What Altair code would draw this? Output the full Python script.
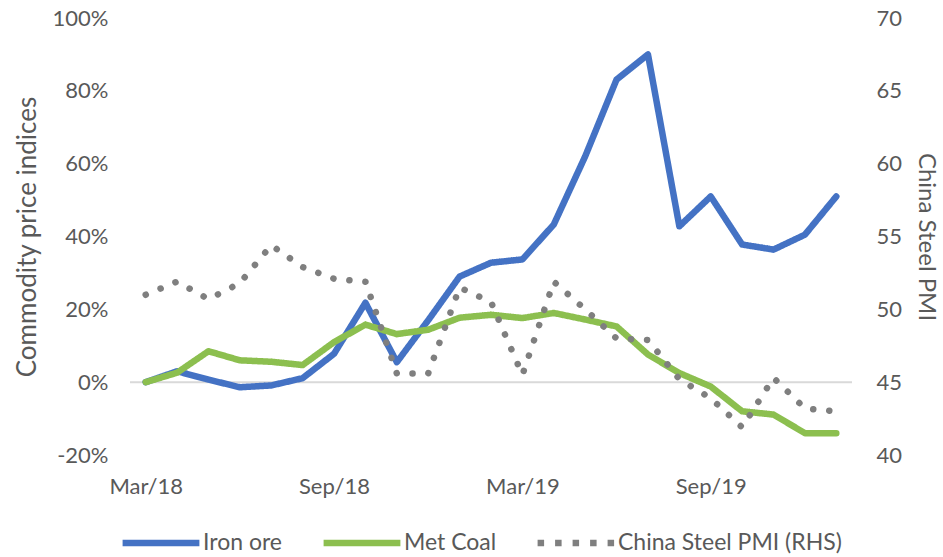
import altair as alt
import pandas as pd

# Monthly observations, Mar/18 .. Jan/20
months = [
    "Mar/18", "Apr/18", "May/18", "Jun/18", "Jul/18", "Aug/18", "Sep/18",
    "Oct/18", "Nov/18", "Dec/18", "Jan/19", "Feb/19", "Mar/19", "Apr/19",
    "May/19", "Jun/19", "Jul/19", "Aug/19", "Sep/19", "Oct/19", "Nov/19",
    "Dec/19", "Jan/20",
]
# Commodity price indices, % change since Mar/18
iron_ore = [0, 3, 0.7, -1.4, -0.9, 1.1, 7.8, 21.8, 5.5, 17, 29, 32.8,
            33.7, 43.3, 62, 83.1, 90, 42.8, 51, 37.8, 36.4, 40.5, 51]
met_coal = [0, 2.6, 8.5, 6, 5.6, 4.7, 11, 15.8, 13.2, 14.4, 17.7, 18.5,
            17.6, 19, 17.2, 15.3, 7.6, 2.5, -1.2, -8, -8.9, -14, -14]
# China steel PMI (right-hand scale)
steel_pmi = [51.0, 51.9, 50.7, 51.8, 54.4, 52.9, 52.1, 51.9, 45.6, 45.6,
             51.5, 50.5, 45.5, 51.9, 50.0, 48.0, 47.9, 45.2, 43.9, 41.9,
             45.3, 43.2, 43.0]

series_names = ["Iron ore", "Met Coal", "China Steel PMI (RHS)"]
series_colors = ["#4472C4", "#8CBF4F", "#7F7F7F"]
# dash patterns used for the legend swatches
legend_dashes = [[1, 0], [1, 0], [6.5, 11]]
x_labels = ["Mar/18", "Sep/18", "Mar/19", "Sep/19"]
left_ticks = [-20, 0, 20, 40, 60, 80, 100]
right_ticks = [40, 45, 50, 55, 60, 65, 70]

FONT = "Lato"
TEXT = "#595959"

prices = pd.DataFrame({
    "month": months * 2,
    "series": [series_names[0]] * len(months) + [series_names[1]] * len(months),
    "value": iron_ore + met_coal,
})
pmi = pd.DataFrame({
    "month": months,
    "series": [series_names[2]] * len(months),
    "pmi": steel_pmi,
})

x_enc = alt.X(
    "month:O",
    sort=months,
    scale=alt.Scale(type="point", padding=0.5),
    axis=alt.Axis(values=x_labels, labelAngle=0, title=None, domain=False,
                  ticks=False, grid=False, labelPadding=21,
                  labelFontSize=22, labelFont=FONT, labelColor=TEXT),
)

left_scale = alt.Scale(domain=[-20, 100], nice=False, zero=False)
left_axis = alt.Axis(
    values=left_ticks, labelExpr="datum.value + '%'",
    title="Commodity price indices", domain=False, ticks=False, grid=False,
    labelPadding=22, titlePadding=12, labelFontSize=22, titleFontSize=26,
    labelFont=FONT, titleFont=FONT, labelColor=TEXT, titleColor=TEXT,
    titleFontWeight="normal",
)

legend = alt.Legend(
    title=None, orient="none", legendX=-11, legendY=437 + 46,
    direction="horizontal", symbolType="stroke", symbolSize=5900,
    symbolStrokeWidth=6.5, labelFontSize=23, labelFont=FONT,
    labelColor=TEXT, labelOffset=0, columnPadding=27, labelLimit=400,
)
color_enc = alt.Color(
    "series:N",
    scale=alt.Scale(domain=series_names, range=series_colors),
    legend=legend,
)
dash_enc = alt.StrokeDash(
    "series:N",
    scale=alt.Scale(domain=series_names, range=legend_dashes),
    legend=legend,
)

# horizontal axis line at 0%
zero_line = alt.Chart(pd.DataFrame({"value": [0]})).mark_rule(
    color="#D9D9D9", strokeWidth=2
).encode(y=alt.Y("value:Q", scale=left_scale, axis=left_axis))

price_lines = alt.Chart(prices).mark_line(
    strokeWidth=6.5, strokeCap="round", strokeJoin="round"
).encode(
    x=x_enc,
    y=alt.Y("value:Q", scale=left_scale, axis=left_axis),
    color=color_enc,
    strokeDash=dash_enc,
)

left = alt.layer(zero_line, price_lines)

# PMI drawn as round dots: near-zero dashes with round caps
pmi_line = alt.Chart(pmi).mark_line(
    strokeWidth=6.5, strokeCap="round", strokeJoin="round",
    strokeDash=[0.1, 16],
).encode(
    x=x_enc,
    y=alt.Y(
        "pmi:Q",
        scale=alt.Scale(domain=[40, 70], nice=False, zero=False),
        axis=alt.Axis(values=right_ticks, orient="right",
                      title="China Steel PMI", domain=False, ticks=False,
                      grid=False, labelPadding=24, titlePadding=12,
                      labelFontSize=22, titleFontSize=24, labelFont=FONT,
                      titleFont=FONT, labelColor=TEXT, titleColor=TEXT,
                      titleFontWeight="normal"),
    ),
    color=color_enc,
)

chart = alt.layer(left, pmi_line).resolve_scale(
    y="independent"
).properties(
    width=722, height=437,
    padding={"left": 130, "top": 18, "right": 91, "bottom": 102},
    autosize=alt.AutoSizeParams(type="none"),
    background="white",
).configure_view(stroke=None)

chart.save("out.html", embed_options={"renderer": "svg", "actions": False})
